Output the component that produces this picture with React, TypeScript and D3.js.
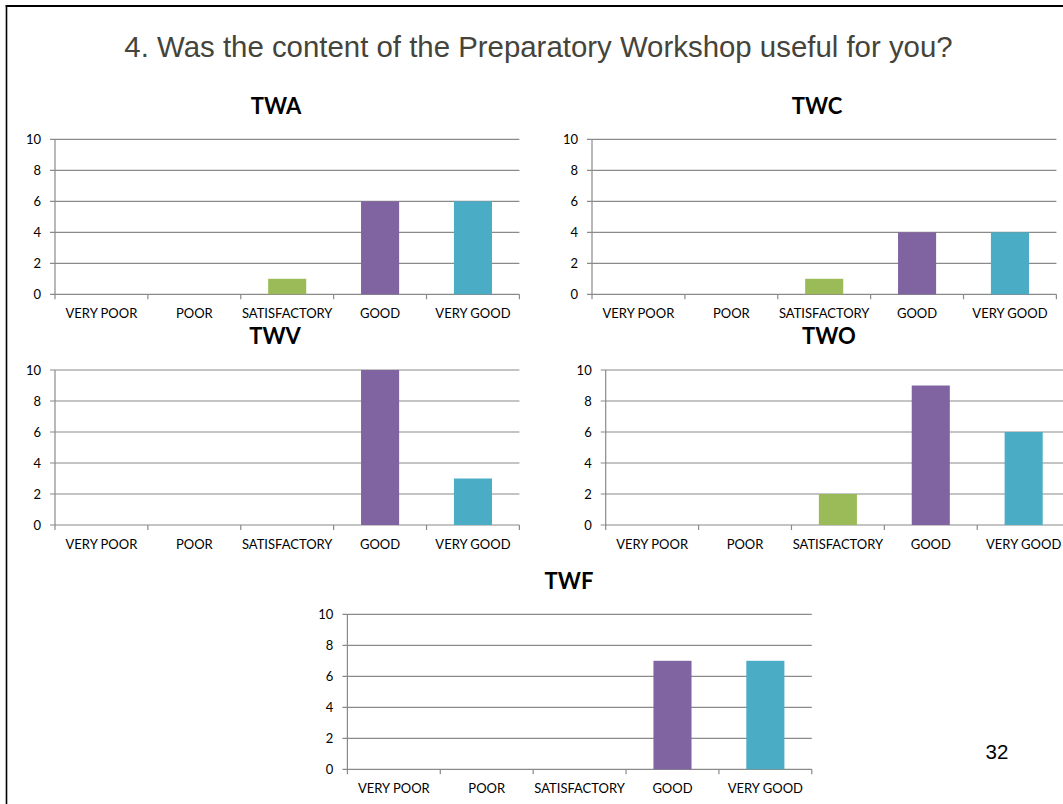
import React from "react";
import * as d3 from "d3";

const categories = ["VERY POOR", "POOR", "SATISFACTORY", "GOOD", "VERY GOOD"];
const chartNames = ["TWA", "TWC", "TWV", "TWO", "TWF"];
const twaValues = [0, 0, 1, 6, 6];
const twcValues = [0, 0, 1, 4, 4];
const twvValues = [0, 0, 0, 10, 3];
const twoValues = [0, 0, 2, 9, 6];
const twfValues = [0, 0, 0, 7, 7];
const yTicks = [0, 2, 4, 6, 8, 10];
const barColors = ["#4F81BD", "#C0504D", "#9BBB59", "#8064A2", "#4BACC6"];
const mainTitle = "4. Was the content of the Preparatory Workshop useful for you?";
const pageNumber = "32";

const seriesByChart = [twaValues, twcValues, twvValues, twoValues, twfValues];

// layout (positions only)
const layouts = [
  { x0: 55, y0: 294.3, tx: 276, ty: 114 },
  { x0: 592, y0: 294.3, tx: 817, ty: 114 },
  { x0: 55, y0: 525, tx: 275, ty: 344 },
  { x0: 605.7, y0: 525, tx: 829, ty: 344 },
  { x0: 347.4, y0: 769.3, tx: 569, ty: 589 },
];
const PLOT_W = 464.4;
const PLOT_H = 155;
const GRID = "#8a8a8a";
const CHART_FONT = "Lato, 'Open Sans', sans-serif";

function BarChart({ name, values, layout }: { name: string; values: number[]; layout: any }) {
  const x = d3
    .scaleBand<string>()
    .domain(categories)
    .range([layout.x0, layout.x0 + PLOT_W])
    .paddingInner(0.59)
    .paddingOuter(0.295);
  const step = PLOT_W / categories.length;
  const y = d3.scaleLinear().domain([0, 10]).range([layout.y0, layout.y0 - PLOT_H]);
  const x1 = layout.x0 + PLOT_W;
  return (
    <g>
      <text
        x={layout.tx}
        y={layout.ty}
        textAnchor="middle"
        fontFamily={CHART_FONT}
        fontWeight="bold"
        fontSize={22}
        fill="#000"
      >
        {name}
      </text>
      {yTicks.map((t) => (
        <g key={t}>
          <line x1={layout.x0 - 5} x2={x1} y1={y(t)} y2={y(t)} stroke={GRID} strokeWidth={1.2} />
          <text
            x={layout.x0 - 14}
            y={y(t)}
            dy="0.36em"
            textAnchor="end"
            fontFamily={CHART_FONT}
            fontSize={13}
            fill="#000"
          >
            {t}
          </text>
        </g>
      ))}
      <line x1={layout.x0} x2={layout.x0} y1={y(10)} y2={y(0) + 5} stroke={GRID} strokeWidth={1.2} />
      {categories.map((c, i) => (
        <line
          key={"t" + i}
          x1={layout.x0 + step * (i + 1)}
          x2={layout.x0 + step * (i + 1)}
          y1={y(0)}
          y2={y(0) + 5}
          stroke={GRID}
          strokeWidth={1.2}
        />
      ))}
      {values.map((v, i) =>
        v > 0 ? (
          <rect
            key={"b" + i}
            x={x(categories[i])}
            y={y(v)}
            width={x.bandwidth()}
            height={y(0) - y(v)}
            fill={barColors[i]}
          />
        ) : null
      )}
      {categories.map((c) => (
        <text
          key={"l" + c}
          x={(x(c) as number) + x.bandwidth() / 2}
          y={y(0) + 24}
          textAnchor="middle"
          fontFamily={CHART_FONT}
          fontSize={13}
          fill="#000"
        >
          {c}
        </text>
      ))}
    </g>
  );
}

export default function App() {
  return (
    <svg
      width={1063}
      height={804}
      style={{ position: "absolute", left: 0, top: 0, background: "#fff" }}
    >
      <rect x={0} y={0} width={1063} height={804} fill="#fff" />
      <line x1={6.5} x2={6.5} y1={5} y2={804} stroke="#000" strokeWidth={1.6} />
      <line x1={5.7} x2={1063} y1={6} y2={6} stroke="#000" strokeWidth={2} />
      <text
        x={538.5}
        y={57}
        textAnchor="middle"
        fontFamily="'Liberation Sans', Arial, sans-serif"
        fontSize={29.4}
        fill="#45443b"
      >
        {mainTitle}
      </text>
      {chartNames.map((n, i) => (
        <BarChart key={n} name={n} values={seriesByChart[i]} layout={layouts[i]} />
      ))}
      <text
        x={997}
        y={759}
        textAnchor="middle"
        fontFamily="'Liberation Sans', Arial, sans-serif"
        fontSize={20.5}
        fill="#000"
      >
        {pageNumber}
      </text>
    </svg>
  );
}
